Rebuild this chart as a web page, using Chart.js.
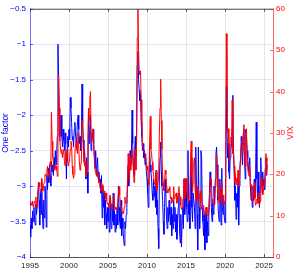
<!DOCTYPE html>
<html><head><meta charset="utf-8">
<script src="https://cdn.jsdelivr.net/npm/chart.js@4.4.1/dist/chart.umd.min.js"></script>
<style>html,body{margin:0;padding:0;background:#fff;}</style>
</head><body>
<canvas id="c" width="298" height="271" style="display:block;width:298px;height:271px"></canvas>
<script>
const startYear = 1995;
const xTicks = [1995, 2000, 2005, 2010, 2015, 2020, 2025];
const leftTicks = [-4, -3.5, -3, -2.5, -2, -1.5, -1, -0.5];
const rightTicks = [0, 10, 20, 30, 40, 50, 60];

// VIX, monthly from Jan 1995
const vix = [
 13.5,12.5,13,12.5,13.5,12,13,13.5,13,14.5,12.5,12,
 15,16.5,18,17,15.5,16.5,19,17,16,17.5,18,20,
 20,19.5,21,22,20,19.5,19,23,22,35,28,24,
 23,21,21.5,22,21,22,19.5,30,44,36,28,26,
 25,26,24,25,26,23,22,25,24,26,23,22,
 23,24,26,28,27,22,20,19,20,25,27,28,
 26,25,30,30,23,21,22,23,33,32,26,23,
 22,23,19.5,20,21,27,36,33,38,40,30,28,
 29,31,31,24,21,21,20,19.5,21,19,18,17.5,
 16.5,16,18,16.5,17.5,15.5,15.5,16,14,15.5,13.5,12.8,
 13,12,13.5,15,14,12,11.5,12.5,12.5,15,12.5,11.5,
 12,11.5,11.5,11.5,15,17,15,13,12,11.5,10.5,11,
 10.5,12,14.5,13,13,14,17,25,21,18,24,21,
 24,26,26,21,18,22,26,21,28,53,60,50,
 45,44,45,38,32,28,26,26,25,25,24,22,
 21,22,18,17.5,28,34,26,25,23,21,20,18,
 17.5,18,21,16,16.5,18.5,20,30,36,43,33,26,
 20,18,16,17.5,21,20,17.5,16,15.5,16.5,16,17,
 14,14.5,13,14,13.5,17,14,14.5,15,15.5,13,14,
 15,17,15,14.5,12.5,11.5,12,14,14,19,14,16,
 19,16,15,14,13,14.5,15,24,28,20,16,18,
 23,24,16,14,15,17,14,12.5,14,15,16,13,
 11.5,11.5,12,12.5,11,10.5,10,12,10.5,10,10,10.5,
 11.5,19,19,19,14,13,13,12.5,12.5,17,19,25,
 19,15,14,13,16.5,15.5,13.5,18,15,15,12.5,13,
 13.5,17,54,40,30,31,26,23,27,29,28,38,
 25,26,22,18,20,17.5,19,18,21,17,20,22,
 22,27,28,25,30,32,25,22,29,31,23,22,
 20,19.5,22,17,17.5,14,13.5,14.5,15,18,14,12.5,
 13,14,13,15.5,13,12.5,13.5,19,17,19,15,16,
 17,18,21,25,20,24
];

// One factor, monthly from Jan 1995
const factor = [
 -3.55,-3.72,-3.45,-3.6,-3.35,-3.5,-3.3,-3.45,-3.55,-3.25,-3.4,-3.3,
 -3.3,-2.95,-3.2,-3.55,-3.1,-3.4,-2.9,-3.35,-3.6,-3.2,-3.45,-3.0,
 -3.1,-3.58,-2.85,-3.05,-2.75,-2.95,-2.7,-2.85,-3.0,-2.65,-2.8,-2.7,
 -2.85,-2.6,-2.75,-2.5,-2.7,-2.55,-2.3,-1.0,-1.45,-2.0,-2.3,-2.1,
 -2.0,-2.3,-2.45,-2.2,-2.35,-2.5,-2.25,-2.4,-2.9,-2.5,-2.3,-2.45,
 -2.2,-2.35,-1.75,-1.9,-2.1,-2.35,-2.3,-2.45,-2.2,-2.1,-2.25,-2.4,
 -2.3,-2.1,-2.0,-2.2,-2.4,-2.3,-2.5,-2.35,-1.56,-2.1,-2.35,-2.6,
 -2.5,-2.7,-2.9,-2.6,-2.8,-3.1,-1.9,-2.4,-2.2,-2.0,-2.5,-2.4,
 -2.3,-2.2,-2.4,-2.6,-2.75,-2.5,-2.85,-2.7,-2.6,-2.9,-2.8,-2.95,
 -2.9,-3.1,-2.85,-3.45,-3.0,-3.3,-3.1,-3.55,-3.2,-3.4,-3.6,-3.3,
 -3.5,-3.3,-3.65,-3.15,-3.45,-3.6,-3.25,-3.5,-3.1,-3.55,-3.35,-3.65,
 -3.4,-3.6,-3.3,-3.55,-3.0,-3.3,-3.5,-3.6,-3.2,-3.7,-3.45,-3.6,
 -3.75,-3.84,-3.5,-3.6,-3.4,-3.3,-2.9,-2.7,-3.0,-2.8,-2.5,-2.7,
 -2.6,-1.93,-2.4,-2.7,-2.85,-2.5,-2.3,-2.6,-2.2,-1.3,-1.1,-1.5,
 -1.65,-1.8,-1.7,-2.1,-2.3,-2.5,-2.4,-2.6,-2.5,-2.7,-2.6,-2.8,
 -2.9,-3.1,-3.3,-3.0,-2.5,-2.7,-2.8,-2.9,-3.1,-3.2,-2.9,-3.15,
 -3.0,-3.3,-2.8,-3.4,-3.2,-3.6,-3.88,-2.9,-2.6,-2.38,-2.8,-3.0,
 -3.2,-3.5,-3.68,-3.3,-2.9,-3.1,-3.45,-3.6,-3.3,-3.5,-3.2,-3.4,
 -3.55,-3.3,-3.7,-3.4,-3.6,-3.2,-3.5,-3.3,-3.65,-3.4,-3.75,-3.5,
 -3.3,-3.1,-3.6,-3.8,-3.4,-3.86,-3.5,-3.3,-3.6,-2.9,-3.4,-3.2,
 -2.9,-3.3,-3.5,-2.5,-3.4,-3.2,-3.6,-2.8,-2.6,-3.3,-3.5,-3.1,
 -3.1,-3.3,-3.6,-2.45,-3.0,-3.4,-3.9,-2.45,-3.3,-3.6,-3.2,-2.5,
 -2.6,-3.3,-3.5,-3.7,-3.4,-3.9,-3.6,-3.3,-3.8,-3.5,-3.7,-3.3,
 -3.1,-2.8,-3.0,-3.3,-3.5,-3.2,-3.4,-3.0,-3.25,-2.9,-2.55,-2.45,
 -2.7,-3.2,-3.4,-3.5,-2.9,-3.1,-3.55,-2.75,-3.3,-3.4,-3.2,-3.45,
 -3.52,-3.0,-1.6,-2.2,-2.6,-2.4,-2.8,-2.9,-2.6,-2.5,-2.4,-2.2,
 -1.72,-2.5,-2.8,-3.2,-3.0,-3.47,-3.1,-3.3,-2.9,-3.55,-3.0,-2.7,
 -2.6,-2.3,-2.5,-2.7,-2.4,-2.2,-2.6,-2.9,-2.2,-2.3,-2.5,-2.6,
 -2.8,-2.7,-2.6,-3.0,-3.2,-3.1,-3.3,-3.0,-3.2,-2.9,-3.15,-2.9,
 -2.1,-2.9,-3.2,-2.8,-3.1,-3.3,-3.0,-2.6,-2.9,-3.1,-2.8,-3.0,
 -2.9,-3.05,-2.75,-2.6,-2.85,-2.7
];

const dates = vix.map((_, i) => startYear + i / 12);
const FONT = 'Liberation Sans, Arial, Helvetica, sans-serif';
const fmtNum = v => (v < 0 ? '\u2212' : '') + String(Math.abs(v));

const frame = {
  id: 'frame',
  afterDatasetsDraw(chart) {
    const {ctx, chartArea: a, scales} = chart;
    ctx.save();
    ctx.lineWidth = 1;
    ctx.strokeStyle = '#555555';
    ctx.beginPath();
    ctx.moveTo(a.left, a.top + 0.5); ctx.lineTo(a.right, a.top + 0.5);
    scales.x.ticks.forEach(t => {
      const px = Math.round(scales.x.getPixelForValue(t.value)) + 0.5;
      ctx.moveTo(px, a.bottom); ctx.lineTo(px, a.bottom - 3);
      ctx.moveTo(px, a.top); ctx.lineTo(px, a.top + 3);
    });
    ctx.stroke();
    ctx.strokeStyle = 'rgba(0,0,255,0.6)';
    ctx.beginPath();
    scales.y.ticks.forEach(t => {
      const py = Math.round(scales.y.getPixelForValue(t.value)) + 0.5;
      ctx.moveTo(a.left, py); ctx.lineTo(a.left + 3, py);
    });
    ctx.stroke();
    ctx.strokeStyle = 'rgba(255,0,0,0.6)';
    ctx.beginPath();
    scales.y1.ticks.forEach(t => {
      const py = Math.round(scales.y1.getPixelForValue(t.value)) + 0.5;
      ctx.moveTo(a.right, py); ctx.lineTo(a.right - 3, py);
    });
    ctx.stroke();
    const tt = scales.y1.options.title;
    ctx.fillStyle = tt.color;
    ctx.font = tt.font.size + 'px ' + FONT;
    ctx.textAlign = 'center';
    ctx.textBaseline = 'middle';
    ctx.translate(291, (a.top + a.bottom) / 2);
    ctx.rotate(-Math.PI / 2);
    ctx.fillText(tt.text, 0, 0);
    ctx.restore();
  }
};

new Chart(document.getElementById('c'), {
  type: 'line',
  data: {
    datasets: [
      { label: 'VIX', data: dates.map((d, i) => ({x: d, y: vix[i]})), yAxisID: 'y1',
        borderColor: '#ff0000', borderWidth: 1, pointRadius: 0, tension: 0, order: 0 },
      { label: 'One factor', data: dates.map((d, i) => ({x: d, y: factor[i]})), yAxisID: 'y',
        borderColor: '#0000ff', borderWidth: 1, pointRadius: 0, tension: 0, order: 1 }
    ]
  },
  options: {
    responsive: false, animation: false, devicePixelRatio: 1,
    layout: { padding: { top: 4, left: 0, right: 0, bottom: 0 } },
    plugins: { legend: { display: false }, tooltip: { enabled: false } },
    scales: {
      x: {
        type: 'linear', min: 1995, max: 2026.15,
        afterBuildTicks: s => { s.ticks = xTicks.map(v => ({value: v})); },
        afterFit: s => { s.height = 14; },
        grid: { color: 'rgba(38,38,38,0.12)', lineWidth: 1, drawTicks: false, tickLength: 0 },
        border: { display: true, color: '#555555', width: 1 },
        ticks: { color: '#262626', font: { family: FONT, size: 8 }, padding: 4, maxRotation: 0, autoSkip: false,
                 callback: v => String(v) }
      },
      y: {
        position: 'left', min: -4, max: -0.5,
        afterBuildTicks: s => { s.ticks = leftTicks.map(v => ({value: v})); },
        afterFit: s => { s.width = 30; },
        grid: { color: 'rgba(0,0,255,0.1)', lineWidth: 1, drawTicks: false, tickLength: 0 },
        border: { display: true, color: 'rgba(0,0,255,0.5)', width: 1 },
        ticks: { color: '#0000ff', font: { family: FONT, size: 8 }, padding: 4, callback: v => fmtNum(v) },
        title: { display: true, text: 'One factor', color: '#0000ff', font: { family: FONT, size: 8.5 }, padding: { top: 1, bottom: 0 } }
      },
      y1: {
        position: 'right', min: 0, max: 60,
        afterBuildTicks: s => { s.ticks = rightTicks.map(v => ({value: v})); },
        afterFit: s => { s.width = 25; },
        grid: { drawOnChartArea: false, drawTicks: false, tickLength: 0 },
        border: { display: true, color: 'rgba(255,0,0,0.6)', width: 1 },
        ticks: { color: '#ff0000', font: { family: FONT, size: 8 }, padding: 3, callback: v => fmtNum(v) },
        title: { display: false, text: 'VIX', color: '#ff0000', font: { family: FONT, size: 8.5 } }
      }
    }
  },
  plugins: [frame]
});
</script>
</body></html>
